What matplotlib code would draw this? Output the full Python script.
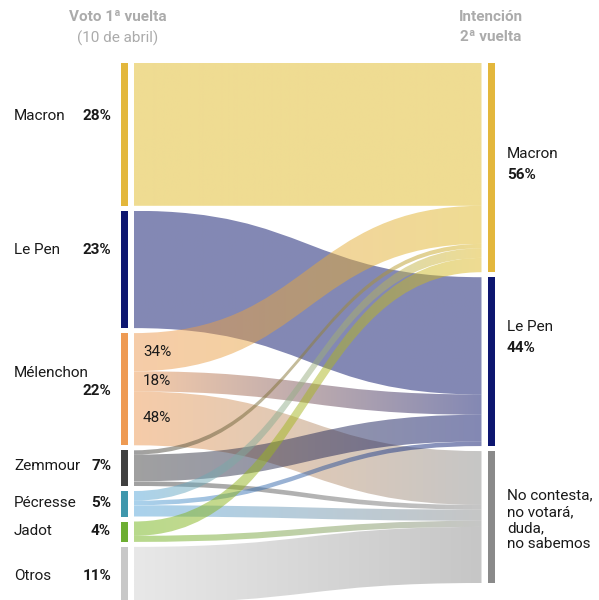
"""Sankey: voto 1a vuelta -> intención 2a vuelta (Francia 2022)."""

import matplotlib
matplotlib.use('Agg')
import matplotlib.pyplot as plt
import numpy as np
from matplotlib.path import Path
from matplotlib.patches import PathPatch, Rectangle
from matplotlib.colors import to_rgb

plt.rcParams['font.family'] = ['Roboto', 'DejaVu Sans']

# --- Data ---
SOURCES = ["Macron", "Le Pen", "Mélenchon", "Zemmour", "Pécresse", "Jadot", "Otros"]
FIRST_ROUND = [28, 23, 22, 7, 5, 4, 11]          # % voto 1a vuelta

TARGETS = ["Macron", "Le Pen", "No contesta,\nno votará,\nduda,\nno sabemos"]
TARGET_PCT = ["56%", "44%", ""]

# share (%) of each first-round electorate going to each option
TO_MACRON = [100, 0, 34, 12, 38, 70, 0]
TO_LEPEN = [0, 100, 18, 75, 18, 0, 0]
TO_NONE = [0, 0, 48, 13, 44, 30, 100]

# --- Styles ---
SRC_BAR_COLORS = ['#E3B73C', '#0D1670', '#EE9A53', '#404040', '#3F97AC', '#6DAE32', '#C8C8C8']
SRC_FLOW_COLORS = ['#DFB925', '#071169', '#ED9951', '#414141', '#55A5D9', '#71B319', '#D1D1D1']
TGT_BAR_COLORS = ['#E3B73C', '#0D1670', '#8A8A8A']
TGT_FLOW_COLORS = ['#DFB925', '#071169', '#8D8D8D']
FLOW_ALPHA = 0.5
GREY = '#ABABAB'
INK = '#1A1A1A'
FS = 11

# --- Layout (pixels) ---
W, H = 599, 600
Y0 = 63
GAP = 5
SCALE = 5.1                 # px per percentage point
X_LBAR, X_FLOW0, X_FLOW1, X_RBAR = 121, 134, 481.5, 488
BAR_W = 6.5
LEFT_NAME_DY = [-18, -19, -16, -2, -1, -1, 1]
LEFT_PCT_DY = [-18, -19, 2, -2, -1, -1, 1]
RIGHT_NAME_DY = [-14, -35, 3]


def stack(values):
    tops, y = [], Y0
    for v in values:
        tops.append(y)
        y += v * SCALE + GAP
    return tops


def flow_path(x0, x1, s0, s1, t0, t1):
    xm = (x0 + x1) / 2
    verts = [(x0, s0), (xm, s0), (xm, t0), (x1, t0),
             (x1, t1), (x1, t1), (xm, t1), (xm, s1), (x0, s1), (x0, s1), (x0, s0)]
    codes = [Path.MOVETO, Path.CURVE4, Path.CURVE4, Path.CURVE4,
             Path.LINETO, Path.LINETO, Path.CURVE4, Path.CURVE4, Path.CURVE4,
             Path.LINETO, Path.CLOSEPOLY]
    return Path(verts, codes)


def main():
    shares = np.array([TO_MACRON, TO_LEPEN, TO_NONE], dtype=float).T  # (src, tgt)
    flows = np.array(FIRST_ROUND, dtype=float)[:, None] * shares / 100.0
    tgt_totals = flows.sum(axis=0)

    src_tops = stack(FIRST_ROUND)
    tgt_tops = stack(tgt_totals)

    fig = plt.figure(figsize=(W / 100, H / 100), dpi=100)
    ax = fig.add_axes([0, 0, 1, 1])

    # link positions
    src_cursor = list(src_tops)
    left_seg = {}
    for i in range(len(SOURCES)):
        for j in range(len(TARGETS)):
            if flows[i, j] > 0:
                h = flows[i, j] * SCALE
                left_seg[i, j] = (src_cursor[i], src_cursor[i] + h)
                src_cursor[i] += h
    tgt_cursor = list(tgt_tops)
    right_seg = {}
    for j in range(len(TARGETS)):
        for i in range(len(SOURCES)):
            if flows[i, j] > 0:
                h = flows[i, j] * SCALE
                right_seg[i, j] = (tgt_cursor[j], tgt_cursor[j] + h)
                tgt_cursor[j] += h

    # flows with horizontal colour gradient
    n = 200
    t = np.linspace(0, 1, n)[:, None]
    for (i, j), (s0, s1) in left_seg.items():
        t0, t1 = right_seg[i, j]
        path = flow_path(X_FLOW0, X_FLOW1, s0, s1, t0, t1)
        c0 = np.array(to_rgb(SRC_FLOW_COLORS[i]))
        c1 = np.array(to_rgb(TGT_FLOW_COLORS[j]))
        img = np.ones((1, n, 4))
        img[0, :, :3] = c0 * (1 - t) + c1 * t
        img[0, :, 3] = FLOW_ALPHA
        ylo, yhi = min(s0, t0), max(s1, t1)
        im = ax.imshow(img, extent=(X_FLOW0, X_FLOW1, yhi, ylo), aspect='auto',
                       interpolation='bilinear', zorder=1)
        patch = PathPatch(path, transform=ax.transData, facecolor='none', edgecolor='none')
        im.set_clip_path(patch)

    # bars
    for i, top in enumerate(src_tops):
        ax.add_patch(Rectangle((X_LBAR, top), BAR_W, FIRST_ROUND[i] * SCALE,
                               color=SRC_BAR_COLORS[i], lw=0, zorder=2))
    for j, top in enumerate(tgt_tops):
        ax.add_patch(Rectangle((X_RBAR, top), BAR_W, tgt_totals[j] * SCALE,
                               color=TGT_BAR_COLORS[j], lw=0, zorder=2))

    # left labels
    for i, name in enumerate(SOURCES):
        yc = src_tops[i] + FIRST_ROUND[i] * SCALE / 2
        ax.text(14, yc + LEFT_NAME_DY[i], name, ha='left', va='center',
                fontsize=FS, color=INK)
        ax.text(111, yc + LEFT_PCT_DY[i], f"{FIRST_ROUND[i]}%", ha='right', va='center',
                fontsize=FS, color=INK, fontweight='bold')

    # Mélenchon split labels
    mel = SOURCES.index("Mélenchon")
    for j in range(len(TARGETS)):
        if (mel, j) in left_seg:
            s0, s1 = left_seg[mel, j]
            ax.text(143, (s0 + s1) / 2, f"{int(shares[mel, j])}%", ha='left', va='center',
                    fontsize=FS, color=INK, zorder=3)

    # right labels
    for j, name in enumerate(TARGETS):
        yc = tgt_tops[j] + tgt_totals[j] * SCALE / 2
        ax.text(507, yc + RIGHT_NAME_DY[j], name, ha='left', va='center',
                fontsize=FS, color=INK, linespacing=1.2)
        if TARGET_PCT[j]:
            ax.text(507, yc + RIGHT_NAME_DY[j] + 21, TARGET_PCT[j], ha='left', va='center',
                    fontsize=FS, color=INK, fontweight='bold')

    # column headers
    ax.text(118, 17, "Voto 1ª vuelta", ha='center', va='center', fontsize=FS,
            color=GREY, fontweight='bold')
    ax.text(118, 38, "(10 de abril)", ha='center', va='center', fontsize=FS, color=GREY)
    ax.text(491, 17, "Intención", ha='center', va='center', fontsize=FS,
            color=GREY, fontweight='bold')
    ax.text(491, 37, "2ª vuelta", ha='center', va='center', fontsize=FS,
            color=GREY, fontweight='bold')

    ax.set_xlim(0, W)
    ax.set_ylim(H, 0)
    ax.axis('off')
    fig.savefig("out.png", dpi=100)
    plt.close(fig)


if __name__ == "__main__":
    main()
